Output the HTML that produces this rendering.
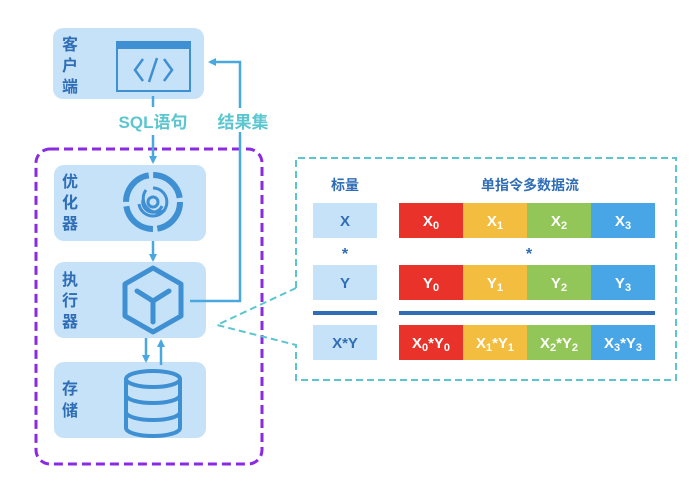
<!DOCTYPE html>
<html><head><meta charset="utf-8"><style>
body{margin:0;background:#fff;width:691px;height:472px;overflow:hidden}
text{font-family:"Liberation Sans","Noto Sans CJK SC",sans-serif;font-weight:bold}
</style></head><body>
<svg width="691" height="472" viewBox="0 0 691 472" xmlns="http://www.w3.org/2000/svg">
<defs><marker id="ah" markerWidth="8" markerHeight="8" refX="6" refY="4" orient="auto" markerUnits="userSpaceOnUse"><path d="M0,0 L8,4 L0,8 z" fill="#4aa8e0"/></marker></defs>
<rect x="36" y="149" width="226" height="315" rx="14" fill="none" stroke="#8a2be2" stroke-width="3" stroke-dasharray="9,5"/>
<rect x="53" y="28" width="151" height="71" rx="10" fill="#c6e2f9"/>
<rect x="54" y="165" width="152" height="76" rx="10" fill="#c6e2f9"/>
<rect x="54" y="262" width="152" height="76" rx="10" fill="#c6e2f9"/>
<rect x="54" y="362" width="152" height="76" rx="10" fill="#c6e2f9"/>
<g fill="#2f6db5" font-size="16">
<text x="62" y="50">客</text><text x="62" y="71">户</text><text x="62" y="92">端</text>
<text x="62" y="187">优</text><text x="62" y="208">化</text><text x="62" y="229">器</text>
<text x="62" y="285">执</text><text x="62" y="306">行</text><text x="62" y="327">器</text>
<text x="62" y="394">存</text><text x="62" y="416">储</text>
</g>
<rect x="117" y="42" width="73" height="49" fill="none" stroke="#3f8fd3" stroke-width="2"/>
<rect x="117" y="42" width="73" height="7" fill="#3f8fd3"/>
<path d="M143,59 L135,70 L143,81 M164,59 L172,70 L164,81 M157,58 L149,82" fill="none" stroke="#3f8fd3" stroke-width="2.5"/>
<g fill="none" stroke="#3f8fd3">
<circle cx="153" cy="202" r="27" stroke-width="6" stroke-dasharray="38,4.4"/>
<circle cx="153" cy="202" r="5" stroke-width="3"/>
<path d="M153,188 A14,14 0 1 1 139,204 M165,210 A14,14 0 0 1 146,190 M143,200 A10,10 0 0 0 162,206" stroke-width="3"/>
</g>
<path d="M153,268 L181,284 L181,316 L153,332 L125,316 L125,284 Z" fill="none" stroke="#3f8fd3" stroke-width="5" stroke-linejoin="round"/>
<path d="M137,291 L153,301 L169,291 M153,301 L153,322" fill="none" stroke="#3f8fd3" stroke-width="5" stroke-linecap="round"/>
<g fill="none" stroke="#3f8fd3" stroke-width="4">
<ellipse cx="153" cy="379" rx="27" ry="8"/>
<path d="M126,379 V428 A27,8 0 0 0 180,428 V379 M126,395 A27,8 0 0 0 180,395 M126,412 A27,8 0 0 0 180,412"/>
</g>
<g stroke="#4aa8e0" stroke-width="2.5" fill="none">
<line x1="153" y1="96" x2="153" y2="107"/>
<line x1="153" y1="135" x2="153" y2="162" marker-end="url(#ah)"/>
<line x1="153" y1="241" x2="153" y2="260" marker-end="url(#ah)"/>
<path d="M190,301 H240 V62 H210" marker-end="url(#ah)"/>
<line x1="146" y1="338" x2="146" y2="361" marker-end="url(#ah)"/>
<line x1="161" y1="365" x2="161" y2="341" marker-end="url(#ah)"/>
</g>
<rect x="215" y="108" width="56" height="24" fill="#fff"/>
<text x="153" y="128" font-size="17" fill="#5cc6d0" text-anchor="middle">SQL语句</text>
<text x="243" y="128" font-size="17" fill="#5cc6d0" text-anchor="middle">结果集</text>
<path d="M296,288 V158 H676 V380 H296 V345 L217,325 L296,288" fill="none" stroke="#5cc6d0" stroke-width="2" stroke-dasharray="7,4"/>
<g font-size="14" text-anchor="middle">
<text x="345" y="190" fill="#2f6db5">标量</text>
<text x="530" y="190" fill="#2f6db5">单指令多数据流</text>
<rect x="313" y="203" width="64" height="35" fill="#c6e2f9"/>
<rect x="313" y="265" width="64" height="35" fill="#c6e2f9"/>
<rect x="313" y="325" width="64" height="35" fill="#c6e2f9"/>
<text x="345" y="226" fill="#2f6db5" font-size="15">X</text>
<text x="345" y="288" fill="#2f6db5" font-size="15">Y</text>
<text x="345" y="348" fill="#2f6db5" font-size="15">X*Y</text>
<text x="345" y="259" fill="#2f6db5" font-size="16">*</text>
<text x="529" y="259" fill="#2f6db5" font-size="16">*</text>
<rect x="313" y="311" width="64" height="4" fill="#2f6db5"/>
<rect x="399" y="311" width="256" height="4" fill="#2f6db5"/>
<rect x="399" y="203" width="64" height="35" fill="#e8322a"/><rect x="463" y="203" width="64" height="35" fill="#f3bd3f"/><rect x="527" y="203" width="64" height="35" fill="#93c659"/><rect x="591" y="203" width="64" height="35" fill="#48a6e6"/>
<rect x="399" y="265" width="64" height="35" fill="#e8322a"/><rect x="463" y="265" width="64" height="35" fill="#f3bd3f"/><rect x="527" y="265" width="64" height="35" fill="#93c659"/><rect x="591" y="265" width="64" height="35" fill="#48a6e6"/>
<rect x="399" y="325" width="64" height="35" fill="#e8322a"/><rect x="463" y="325" width="64" height="35" fill="#f3bd3f"/><rect x="527" y="325" width="64" height="35" fill="#93c659"/><rect x="591" y="325" width="64" height="35" fill="#48a6e6"/>
<g fill="#fff" font-size="15">
<text x="431" y="226">X<tspan font-size="11" dy="3">0</tspan></text>
<text x="495" y="226">X<tspan font-size="11" dy="3">1</tspan></text>
<text x="559" y="226">X<tspan font-size="11" dy="3">2</tspan></text>
<text x="623" y="226">X<tspan font-size="11" dy="3">3</tspan></text>
<text x="431" y="288">Y<tspan font-size="11" dy="3">0</tspan></text>
<text x="495" y="288">Y<tspan font-size="11" dy="3">1</tspan></text>
<text x="559" y="288">Y<tspan font-size="11" dy="3">2</tspan></text>
<text x="623" y="288">Y<tspan font-size="11" dy="3">3</tspan></text>
<text x="431" y="348">X<tspan font-size="11" dy="3">0</tspan><tspan dy="-3">*Y</tspan><tspan font-size="11" dy="3">0</tspan></text>
<text x="495" y="348">X<tspan font-size="11" dy="3">1</tspan><tspan dy="-3">*Y</tspan><tspan font-size="11" dy="3">1</tspan></text>
<text x="559" y="348">X<tspan font-size="11" dy="3">2</tspan><tspan dy="-3">*Y</tspan><tspan font-size="11" dy="3">2</tspan></text>
<text x="623" y="348">X<tspan font-size="11" dy="3">3</tspan><tspan dy="-3">*Y</tspan><tspan font-size="11" dy="3">3</tspan></text>
</g>
</g>
</svg>
</body></html>
